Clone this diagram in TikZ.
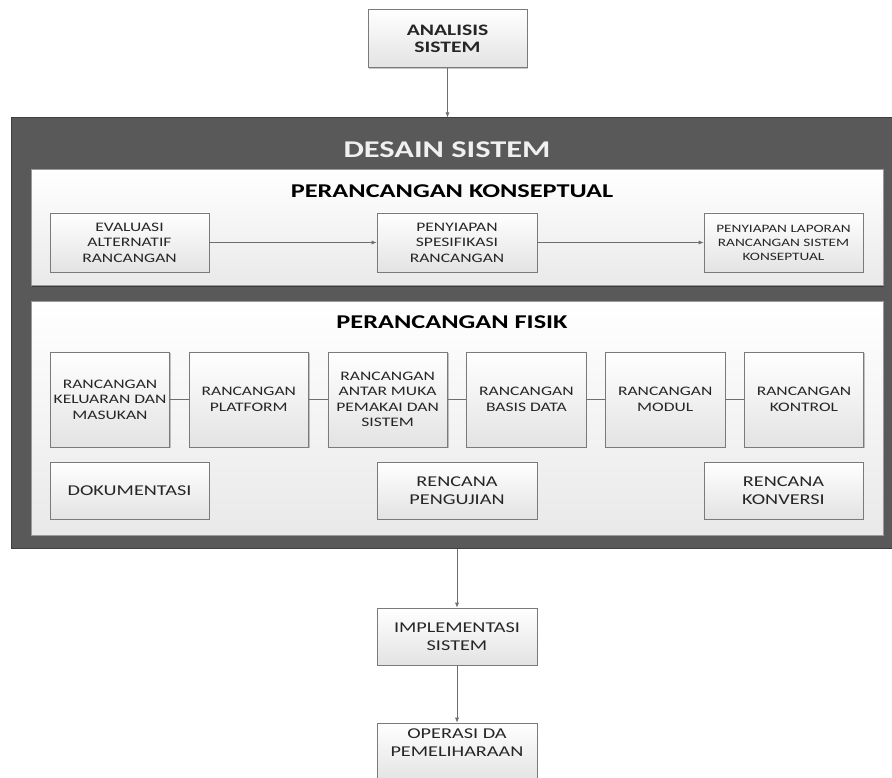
\documentclass[tikz,border=0pt]{standalone}
\usepackage{fontspec}
\setmainfont{Carlito}[FakeStretch=1.35]
\usetikzlibrary{arrows.meta,shadows}
\definecolor{darkbg}{HTML}{595959}
\definecolor{darkline}{HTML}{3F3F3F}
\definecolor{boxline}{HTML}{7A7A7A}
\definecolor{boxbot}{HTML}{E3E3E3}
\definecolor{panbot}{HTML}{E9E9E9}
\definecolor{panline}{HTML}{9A9A9A}
\definecolor{txt}{HTML}{262626}
\definecolor{arr}{HTML}{6E6E6E}
\begin{document}
\begin{tikzpicture}[x=1pt,y=-1pt,
  box/.style={draw=boxline, line width=0.6pt, top color=white, bottom color=boxbot,
    inner sep=0pt, align=center, text=txt, font=\fontsize{13}{15.5}\selectfont,
    drop shadow={shadow xshift=1.2pt,shadow yshift=-1.2pt,opacity=0.22,fill=black}},
  wbox/.style={box, minimum width=159pt, minimum height=58pt},
  rbox/.style={box, minimum width=119.5pt, minimum height=95pt},
  bigtext/.style={font=\fontsize{15}{18}\selectfont},
  panel/.style={draw=panline, line width=1pt, top color=white, bottom color=panbot,
    inner sep=0pt, minimum width=852pt,
    drop shadow={shadow xshift=1pt,shadow yshift=-1pt,opacity=0.35,fill=black}},
  title/.style={font=\bfseries\fontsize{19.5}{22}\selectfont, text=black, inner sep=0pt},
  conn/.style={draw=arr, line width=0.7pt, -{Latex[length=5pt,width=4pt]}},
  link/.style={draw=arr, line width=0.7pt}
]
\clip (0,0) rectangle (892,778);
\fill[white] (0,0) rectangle (892,778);

% outer dark container
\node[draw=darkline, line width=1pt, fill=darkbg, minimum width=882pt, minimum height=430pt, inner sep=0pt] (ds) at (452,333) {};
\node[font=\bfseries\fontsize{24}{28}\selectfont, text=white!94!black, inner sep=0pt] (dst) at (447,149.5) {DESAIN SISTEM};

% panels
\node[panel, minimum height=116pt] (pk) at (457,228) {};
\node[panel, minimum height=234pt] (pf) at (457,418) {};
\node[title] (pkt) at (452,191) {PERANCANGAN KONSEPTUAL};
\node[title] (pft) at (452,322) {PERANCANGAN FISIK};

% top and bottom process boxes
\node[wbox, font=\bfseries\fontsize{16}{17}\selectfont] (an) at (447.5,38.5) {ANALISIS\\SISTEM};
\node[wbox, bigtext, minimum width=160pt, minimum height=57pt] (im) at (457,636.5) {IMPLEMENTASI\\SISTEM};
\node[wbox, minimum width=160pt, minimum height=58pt] (op) at (457,752) {};
\node[inner sep=0pt, align=center, text=txt, bigtext] (opt) at (457,743) {OPERASI DA\\PEMELIHARAAN};

% conceptual row
\node[wbox, minimum height=59pt] (ev) at (129.5,242.5) {EVALUASI\\ALTERNATIF\\RANCANGAN};
\node[wbox, minimum height=59pt, minimum width=160pt] (sp) at (457,242.5) {PENYIAPAN\\SPESIFIKASI\\RANCANGAN};
\node[wbox, minimum height=59pt, font=\fontsize{11.3}{14}\selectfont] (lp) at (783.5,242.5) {PENYIAPAN LAPORAN\\RANCANGAN SISTEM\\KONSEPTUAL};

% physical row
\node[rbox] (r1) at (110,399.5) {RANCANGAN\\KELUARAN DAN\\MASUKAN};
\node[rbox] (r2) at (248.8,399.5) {RANCANGAN\\PLATFORM};
\node[rbox] (r3) at (387.6,399.5) {RANCANGAN\\ANTAR MUKA\\PEMAKAI DAN\\SISTEM};
\node[rbox] (r4) at (526.4,399.5) {RANCANGAN\\BASIS DATA};
\node[rbox] (r5) at (665.2,399.5) {RANCANGAN\\MODUL};
\node[rbox] (r6) at (804,399.5) {RANCANGAN\\KONTROL};

\node[wbox, bigtext, minimum height=57pt] (dk) at (129.5,490.5) {DOKUMENTASI};
\node[wbox, bigtext, minimum height=57pt, minimum width=160pt] (pg) at (457,490.5) {RENCANA\\PENGUJIAN};
\node[wbox, bigtext, minimum height=57pt] (kv) at (783.5,490.5) {RENCANA\\KONVERSI};

% connectors
\draw[conn] (an.south) -- (an.south |- ds.north);
\draw[conn] (ev.east) -- (sp.west);
\draw[conn] (sp.east) -- (lp.west);
\draw[link] (r1.east) -- (r2.west);
\draw[link] (r2.east) -- (r3.west);
\draw[link] (r3.east) -- (r4.west);
\draw[link] (r4.east) -- (r5.west);
\draw[link] (r5.east) -- (r6.west);
\draw[conn] (im.north |- ds.south) -- (im.north);
\draw[conn] (im.south) -- (op.north);
\end{tikzpicture}
\end{document}
